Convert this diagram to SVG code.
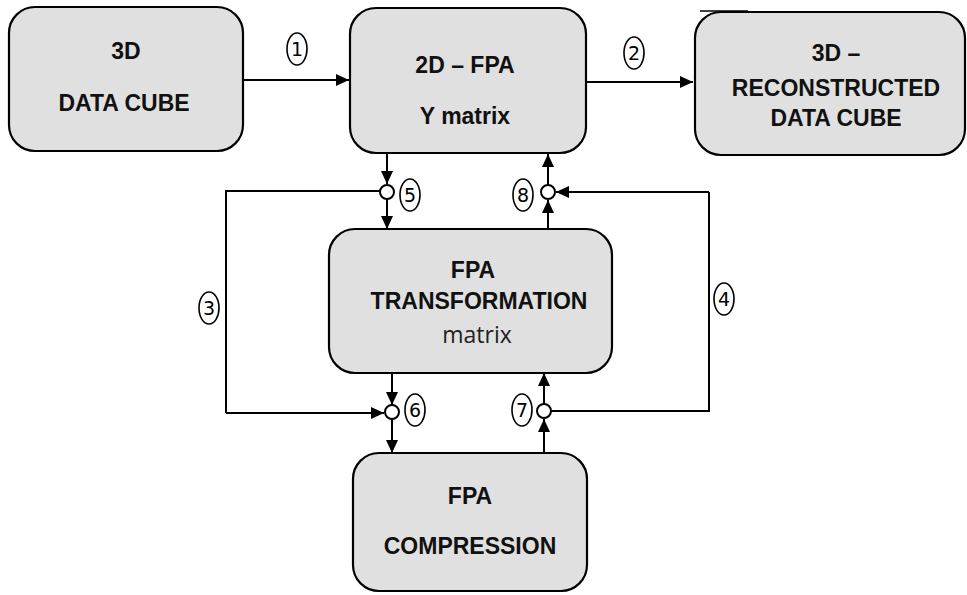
<svg xmlns="http://www.w3.org/2000/svg" width="967" height="595" viewBox="0 0 967 595">
<style>
.box{fill:#e0e0e0;stroke:#000;stroke-width:2.2}
.t{font-family:"Liberation Sans",Arial,sans-serif;font-weight:bold;font-size:23px;text-anchor:middle;fill:#111}
.r{font-family:"Open Sans","Liberation Sans",sans-serif;font-size:23px;text-anchor:middle;fill:#222}
.c{fill:none;stroke:#000;stroke-width:2}
.a{fill:none;stroke:#000;stroke-width:2;marker-end:url(#ah)}
.j{fill:#fff;stroke:#000;stroke-width:2}
.lb{fill:#fff;stroke:#000;stroke-width:1.6}
.n{font-family:"DejaVu Sans","Liberation Sans",sans-serif;font-size:19px;text-anchor:middle;fill:#000}
</style>
<defs>
<marker id="ah" markerUnits="userSpaceOnUse" markerWidth="14" markerHeight="12" refX="13" refY="6" orient="auto">
<path d="M0,0 L13,6 L0,12 Z" fill="#000"/>
</marker>
</defs>
<g id="n1"><rect class="box" x="9" y="7" width="234" height="144" rx="26"/>
<text class="t" x="126" y="59">3D</text><text class="t" x="124" y="111">DATA CUBE</text></g>
<g id="n2"><rect class="box" x="350" y="8" width="236" height="145" rx="26"/>
<text class="t" x="465" y="73">2D – FPA</text><text class="t" x="465" y="124">Y matrix</text></g>
<g id="n3"><rect class="box" x="695" y="12" width="270" height="143" rx="26"/>
<line x1="700" y1="11" x2="748" y2="11" stroke="#000" stroke-width="1.5"/>
<text class="t" x="836" y="61">3D –</text><text class="t" x="836" y="96">RECONSTRUCTED</text><text class="t" x="836" y="126">DATA CUBE</text></g>
<g id="n4"><rect class="box" x="329" y="229" width="283" height="144" rx="26"/>
<text class="t" x="473" y="278">FPA</text><text class="t" x="479" y="309">TRANSFORMATION</text><text class="r" x="477" y="343">matrix</text></g>
<g id="n5"><rect class="box" x="353" y="453" width="234" height="138" rx="26"/>
<text class="t" x="470" y="504">FPA</text><text class="t" x="470" y="554">COMPRESSION</text></g>
<g id="connectors">
<line class="a" x1="243" y1="80" x2="349" y2="80"/>
<line class="a" x1="586" y1="82" x2="693" y2="82"/>
<line class="a" x1="387" y1="153" x2="387" y2="184"/>
<line class="a" x1="387" y1="199" x2="387" y2="229"/>
<polyline class="c" points="380,191 226,191 226,413"/>
<polyline class="a" points="226,413 384,413"/>
<line class="a" x1="392" y1="373" x2="392" y2="405"/>
<line class="a" x1="392" y1="420" x2="392" y2="453"/>
<line class="a" x1="548" y1="229" x2="548" y2="200"/>
<line class="a" x1="548" y1="185" x2="548" y2="154"/>
<polyline class="c" points="709,192 709,411 551,411"/>
<line class="a" x1="709" y1="192" x2="556" y2="192"/>
<line class="a" x1="544" y1="453" x2="544" y2="419"/>
<line class="a" x1="544" y1="404" x2="544" y2="373"/>
<circle class="j" cx="387" cy="192" r="7"/>
<circle class="j" cx="548" cy="192" r="7"/>
<circle class="j" cx="392" cy="412" r="7"/>
<circle class="j" cx="544" cy="411" r="7"/>
</g>
<g id="labels">
<ellipse class="lb" cx="297" cy="49" rx="10" ry="16"/><text class="n" x="297" y="56">1</text>
<ellipse class="lb" cx="634" cy="53" rx="10" ry="16"/><text class="n" x="634" y="60">2</text>
<ellipse class="lb" cx="209" cy="308" rx="10" ry="16"/><text class="n" x="209" y="315">3</text>
<ellipse class="lb" cx="724" cy="299" rx="10" ry="16"/><text class="n" x="724" y="306">4</text>
<ellipse class="lb" cx="410" cy="195" rx="10" ry="16"/><text class="n" x="410" y="202">5</text>
<ellipse class="lb" cx="415" cy="410" rx="10" ry="16"/><text class="n" x="415" y="417">6</text>
<ellipse class="lb" cx="522" cy="410" rx="10" ry="16"/><text class="n" x="522" y="417">7</text>
<ellipse class="lb" cx="523" cy="195" rx="10" ry="16"/><text class="n" x="523" y="202">8</text>
</g>
</svg>
